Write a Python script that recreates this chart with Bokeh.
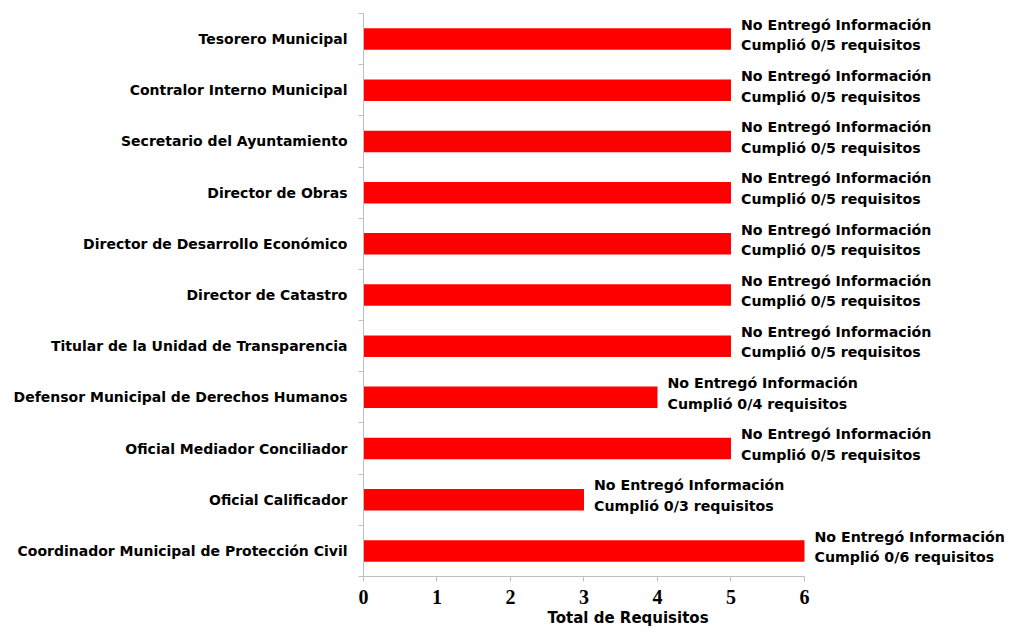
from bokeh.plotting import figure
from bokeh.models import Range1d, FixedTicker, ColumnDataSource, Title
from bokeh.core.properties import value
from bokeh.embed import file_html
from bokeh.resources import INLINE

cargos = [
    "Tesorero Municipal",
    "Contralor Interno Municipal",
    "Secretario del Ayuntamiento",
    "Director de Obras",
    "Director de Desarrollo Económico",
    "Director de Catastro",
    "Titular de la Unidad de Transparencia",
    "Defensor Municipal de Derechos Humanos",
    "Oficial Mediador Conciliador",
    "Oficial Calificador",
    "Coordinador Municipal de Protección Civil",
]
total_requisitos = [5, 5, 5, 5, 5, 5, 5, 4, 5, 3, 6]
cumplidos = [0, 0, 0, 0, 0, 0, 0, 0, 0, 0, 0]
estatus = ["No Entregó Información"] * 11
x_ticks = [0, 1, 2, 3, 4, 5, 6]

n = len(cargos)
idx = list(range(n))
etiquetas = [f"{e}\nCumplió {c}/{t} requisitos" for e, c, t in zip(estatus, cumplidos, total_requisitos)]

src = ColumnDataSource(dict(y=idx, total=total_requisitos, etiqueta=etiquetas))

p = figure(
    width=1005, height=626,
    x_range=Range1d(0, 8.735),
    y_range=Range1d(start=n - 0.5, end=-0.5),
    output_backend="svg", toolbar_location=None,
    min_border_left=363, min_border_right=0, min_border_top=13, min_border_bottom=10,
)
p.outline_line_color = None
p.xgrid.grid_line_color = None
p.ygrid.grid_line_color = None
p.background_fill_color = "white"
p.border_fill_color = "white"

p.hbar(y="y", right="total", left=0, height=0.42, source=src, fill_color="#FF0000", line_color=None)

p.text(x="total", y="y", text="etiqueta", source=src, x_offset=10, y_offset=-4,
       text_align="left", text_baseline="middle",
       text_font=value("DejaVu Sans"), text_font_style="bold", text_font_size="14.2px",
       text_line_height=1.28, text_color="black")

# x axis
xa = p.xaxis[0]
xa.ticker = FixedTicker(ticks=x_ticks, minor_ticks=[])
xa.bounds = (0, 6)
xa.axis_line_color = "#BFBFBF"
xa.major_tick_line_color = "#BFBFBF"
xa.major_tick_out = 5
xa.major_tick_in = 0
xa.minor_tick_line_color = None
xa.major_label_text_font = "Liberation Serif"
xa.major_label_text_font_style = "bold"
xa.major_label_text_font_size = "20px"
xa.major_label_text_color = "black"
xa.major_label_standoff = 8

# y axis
ya = p.yaxis[0]
ya.ticker = FixedTicker(ticks=idx, minor_ticks=[i - 0.5 for i in range(n + 1)])
ya.major_label_overrides = {i: c for i, c in zip(idx, cargos)}
ya.axis_line_color = "#BFBFBF"
ya.major_tick_line_color = None
ya.major_tick_out = 0
ya.major_tick_in = 0
ya.minor_tick_line_color = "#BFBFBF"
ya.minor_tick_out = 5
ya.minor_tick_in = 0
ya.major_label_text_font = "DejaVu Sans"
ya.major_label_text_font_style = "bold"
ya.major_label_text_font_size = "14px"
ya.major_label_text_color = "black"
ya.major_label_standoff = 11

p.add_layout(Title(text="Total de Requisitos", align="left", offset=184,
                   text_font="DejaVu Sans", text_font_style="bold",
                   text_font_size="15px", text_color="black", standoff=0), "below")

open("out.html", "w").write(file_html(p, INLINE))
